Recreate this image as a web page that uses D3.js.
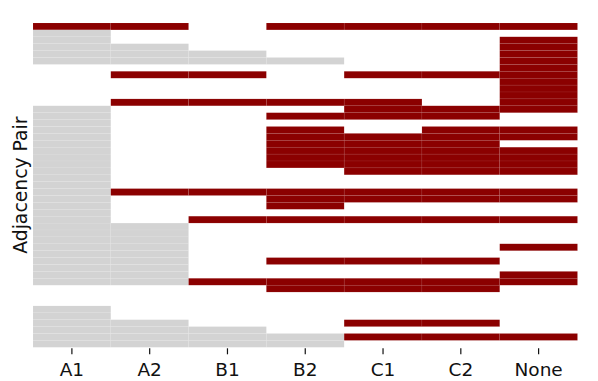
<!DOCTYPE html>
<html>
<head>
<meta charset="utf-8">
<script src="https://cdn.jsdelivr.net/npm/d3@7"></script>
<style>
  body { margin: 0; background: white; }
  svg { display: block; }
</style>
</head>
<body>
<div id="chart"></div>
<script>
// columns shown along the bottom
const categories = ["A1", "A2", "B1", "B2", "C1", "C2", "None"];
// cell codes, one row per adjacency pair: 0 = empty, 1 = gray, 2 = red
const cellRows = [
  [2, 2, 0, 2, 2, 2, 2],
  [1, 0, 0, 0, 0, 0, 0],
  [1, 0, 0, 0, 0, 0, 2],
  [1, 1, 0, 0, 0, 0, 2],
  [1, 1, 1, 0, 0, 0, 2],
  [1, 1, 1, 1, 0, 0, 2],
  [0, 0, 0, 0, 0, 0, 2],
  [0, 2, 2, 0, 2, 2, 2],
  [0, 0, 0, 0, 0, 0, 2],
  [0, 0, 0, 0, 0, 0, 2],
  [0, 0, 0, 0, 0, 0, 2],
  [0, 2, 2, 2, 2, 0, 2],
  [1, 0, 0, 0, 2, 2, 2],
  [1, 0, 0, 2, 2, 2, 0],
  [1, 0, 0, 0, 0, 0, 0],
  [1, 0, 0, 2, 0, 2, 2],
  [1, 0, 0, 2, 2, 2, 2],
  [1, 0, 0, 2, 2, 2, 0],
  [1, 0, 0, 2, 2, 2, 2],
  [1, 0, 0, 2, 2, 2, 2],
  [1, 0, 0, 2, 2, 2, 2],
  [1, 0, 0, 0, 2, 2, 2],
  [1, 0, 0, 0, 0, 0, 0],
  [1, 0, 0, 0, 0, 0, 0],
  [1, 2, 2, 2, 2, 2, 2],
  [1, 0, 0, 2, 2, 2, 2],
  [1, 0, 0, 2, 0, 0, 0],
  [1, 0, 0, 0, 0, 0, 0],
  [1, 0, 2, 2, 2, 2, 2],
  [1, 1, 0, 0, 0, 0, 0],
  [1, 1, 0, 0, 0, 0, 0],
  [1, 1, 0, 0, 0, 0, 0],
  [1, 1, 0, 0, 0, 0, 2],
  [1, 1, 0, 0, 0, 0, 0],
  [1, 1, 0, 2, 2, 2, 0],
  [1, 1, 0, 0, 0, 0, 0],
  [1, 1, 0, 0, 0, 0, 2],
  [1, 1, 2, 2, 2, 2, 2],
  [0, 0, 0, 2, 2, 2, 0],
  [0, 0, 0, 0, 0, 0, 0],
  [0, 0, 0, 0, 0, 0, 0],
  [1, 0, 0, 0, 0, 0, 0],
  [1, 0, 0, 0, 0, 0, 0],
  [1, 1, 0, 0, 2, 2, 0],
  [1, 1, 1, 0, 0, 0, 0],
  [1, 1, 1, 1, 2, 2, 2],
  [1, 1, 1, 1, 0, 0, 0]
];
const cellColors = ["#ffffff", "#d3d3d3", "#8b0000"];
const yLabel = "Adjacency Pair";

const dimensions = {
  width: 598,
  height: 381,
  margins: { top: 23, right: 20.5, bottom: 33.7, left: 33 }
};
dimensions.boundedWidth =
  dimensions.width - dimensions.margins.left - dimensions.margins.right;
dimensions.boundedHeight =
  dimensions.height - dimensions.margins.top - dimensions.margins.bottom;

const wrapper = d3.select("#chart")
  .append("svg")
  .attr("width", dimensions.width)
  .attr("height", dimensions.height)
  .style("background-color", "white");

const bounds = wrapper.append("g")
  .attr("transform", `translate(${dimensions.margins.left},${dimensions.margins.top})`);

// scales
const xScale = d3.scaleBand()
  .domain(categories)
  .range([0, dimensions.boundedWidth]);

const yScale = d3.scaleBand()
  .domain(d3.range(cellRows.length))
  .range([0, dimensions.boundedHeight]);

const colorScale = d3.scaleOrdinal()
  .domain([0, 1, 2])
  .range(cellColors);

// flatten into cells
const cells = [];
cellRows.forEach((row, i) => {
  row.forEach((v, j) => {
    if (v !== 0) cells.push({ row: i, col: categories[j], value: v });
  });
});

bounds.append("g")
  .selectAll("rect")
  .data(cells)
  .join("rect")
  .attr("x", (d) => xScale(d.col))
  .attr("y", (d) => yScale(d.row))
  .attr("width", xScale.bandwidth())
  .attr("height", yScale.bandwidth())
  .attr("fill", (d) => colorScale(d.value))
  .attr("stroke", "white")
  .attr("stroke-opacity", 0.12)
  .attr("stroke-width", 0.5);

// x axis
const xAxis = d3.axisBottom(xScale)
  .tickSize(6)
  .tickPadding(9);

bounds.append("g")
  .attr("transform", `translate(0,${dimensions.boundedHeight + 1})`)
  .call(xAxis)
  .call((g) => g.select(".domain").remove())
  .call((g) => g.selectAll(".tick line").attr("stroke", "#111").attr("stroke-width", 1.2))
  .call((g) => g.selectAll(".tick text").attr("fill", "#111"))
  .attr("font-family", "DejaVu Sans")
  .attr("font-size", 18.5);

// y label
wrapper.append("text")
  .attr("transform", `translate(27,${dimensions.margins.top + dimensions.boundedHeight / 2}) rotate(-90)`)
  .attr("text-anchor", "middle")
  .attr("font-family", "DejaVu Sans")
  .attr("font-size", 18.8)
  .attr("fill", "#111")
  .text(yLabel);
</script>
</body>
</html>
